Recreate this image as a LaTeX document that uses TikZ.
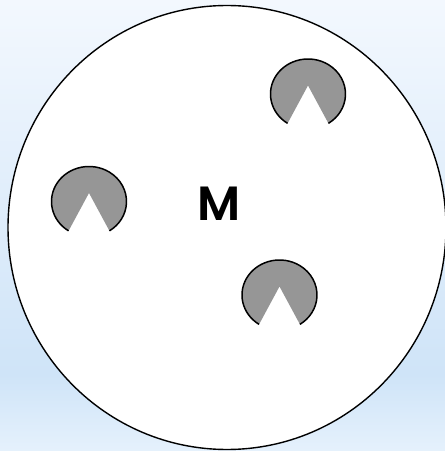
\documentclass[tikz,border=0pt]{standalone}
\usepackage{fontspec}
\usepackage{tikz}
\usepackage{xcolor}
\setmainfont{Poppins}
\newfontfamily\labelfont{Poppins}[UprightFont=* SemiBold]

\definecolor{skytop}{RGB}{243,248,254}
\definecolor{skymid}{RGB}{207,228,248}
\definecolor{skybot}{RGB}{229,241,252}
\definecolor{pacgray}{RGB}{150,150,150}

\begin{document}
\begin{tikzpicture}[x=1pt,y=1pt,
  pacfill/.style={fill=pacgray},
  pacrim/.style={line width=1.5pt}]
\useasboundingbox (0,0) rectangle (445,451);
% background
\shade[top color=skytop,bottom color=skymid] (0,76) rectangle (445,451);
\shade[top color=skymid,bottom color=skybot] (0,0) rectangle (445,76.5);
% the disc
\draw[line width=1.4pt,fill=white] (227,223.5) ellipse [x radius=219,y radius=222];
\node[inner sep=0pt,font=\labelfont\fontsize{48}{48}\selectfont] (m) at (219.5,247) {M};
% the three notched blobs
\fill[pacfill] (308,357) ++(237:37.5 and 35) arc [start angle=237,end angle=-57,x radius=37.5,y radius=35] -- (308,365.5) -- cycle;
\draw[pacrim] (308,357) ++(237:37.5 and 35) arc [start angle=237,end angle=-57,x radius=37.5,y radius=35];
\fill[pacfill] (89,249.5) ++(237:37.5 and 35) arc [start angle=237,end angle=-57,x radius=37.5,y radius=35] -- (89,258) -- cycle;
\draw[pacrim] (89,249.5) ++(237:37.5 and 35) arc [start angle=237,end angle=-57,x radius=37.5,y radius=35];
\fill[pacfill] (279.5,156) ++(237:37.5 and 35) arc [start angle=237,end angle=-57,x radius=37.5,y radius=35] -- (279.5,164.5) -- cycle;
\draw[pacrim] (279.5,156) ++(237:37.5 and 35) arc [start angle=237,end angle=-57,x radius=37.5,y radius=35];
\end{tikzpicture}
\end{document}
